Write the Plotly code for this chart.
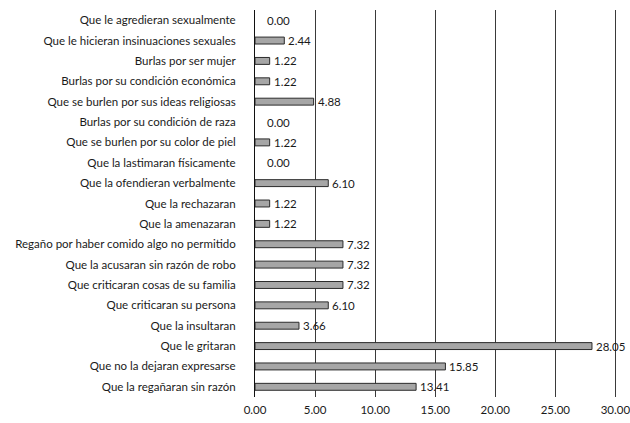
import plotly.graph_objects as go

categories = [
    "Que le agredieran sexualmente",
    "Que le hicieran insinuaciones sexuales",
    "Burlas por ser mujer",
    "Burlas por su condición económica",
    "Que se burlen por sus ideas religiosas",
    "Burlas por su condición de raza",
    "Que se burlen por su color de piel",
    "Que la lastimaran físicamente",
    "Que la ofendieran verbalmente",
    "Que la rechazaran",
    "Que la amenazaran",
    "Regaño por haber comido algo no permitido",
    "Que la acusaran sin razón de robo",
    "Que criticaran cosas de su familia",
    "Que criticaran su persona",
    "Que la insultaran",
    "Que le gritaran",
    "Que no la dejaran expresarse",
    "Que la regañaran sin razón",
]
values = [0.00, 2.44, 1.22, 1.22, 4.88, 0.00, 1.22, 0.00, 6.10, 1.22,
          1.22, 7.32, 7.32, 7.32, 6.10, 3.66, 28.05, 15.85, 13.41]
x_ticks = [0, 5, 10, 15, 20, 25, 30]

FONT = "Lato"
TEXT = "#1a1a1a"

fig = go.Figure(
    go.Bar(
        x=values,
        y=categories,
        orientation="h",
        width=0.34,
        marker=dict(
            color="#a6a6a6",
            # no outline on empty bars so nothing is drawn at zero
            line=dict(color="#2b2b2b", width=[0 if v == 0 else 1 for v in values]),
        ),
        hoverinfo="x+y",
    )
)

# value labels just right of each bar end
for cat, v in zip(categories, values):
    fig.add_annotation(
        x=v, y=cat, text=f"{v:.2f}", showarrow=False,
        xanchor="left", yanchor="middle",
        xshift=10 if v == 0 else 2,
        font=dict(family=FONT, size=11.5, color=TEXT),
    )

fig.update_layout(
    width=630, height=423,
    margin=dict(l=255, r=11, t=10, b=26),
    paper_bgcolor="white", plot_bgcolor="white",
    showlegend=False,
    font=dict(family=FONT, size=11.5, color=TEXT),
)
fig.update_xaxes(
    range=[0, 30.3], tickvals=x_ticks,
    ticktext=[f"{t:.2f}" for t in x_ticks],
    showgrid=True, gridcolor="#3a3a3a", gridwidth=1,
    zeroline=False, showline=False, ticks="",
    ticklabelstandoff=4, ticklabeloverflow="allow",
    fixedrange=True, automargin=False,
)
fig.update_yaxes(
    autorange=False, range=[18.5, -0.5],
    showgrid=False, zeroline=False,
    showline=True, linecolor="#111111", linewidth=1,
    ticks="", ticklabelstandoff=16, fixedrange=True, automargin=False,
)

fig.write_html("out.html")
